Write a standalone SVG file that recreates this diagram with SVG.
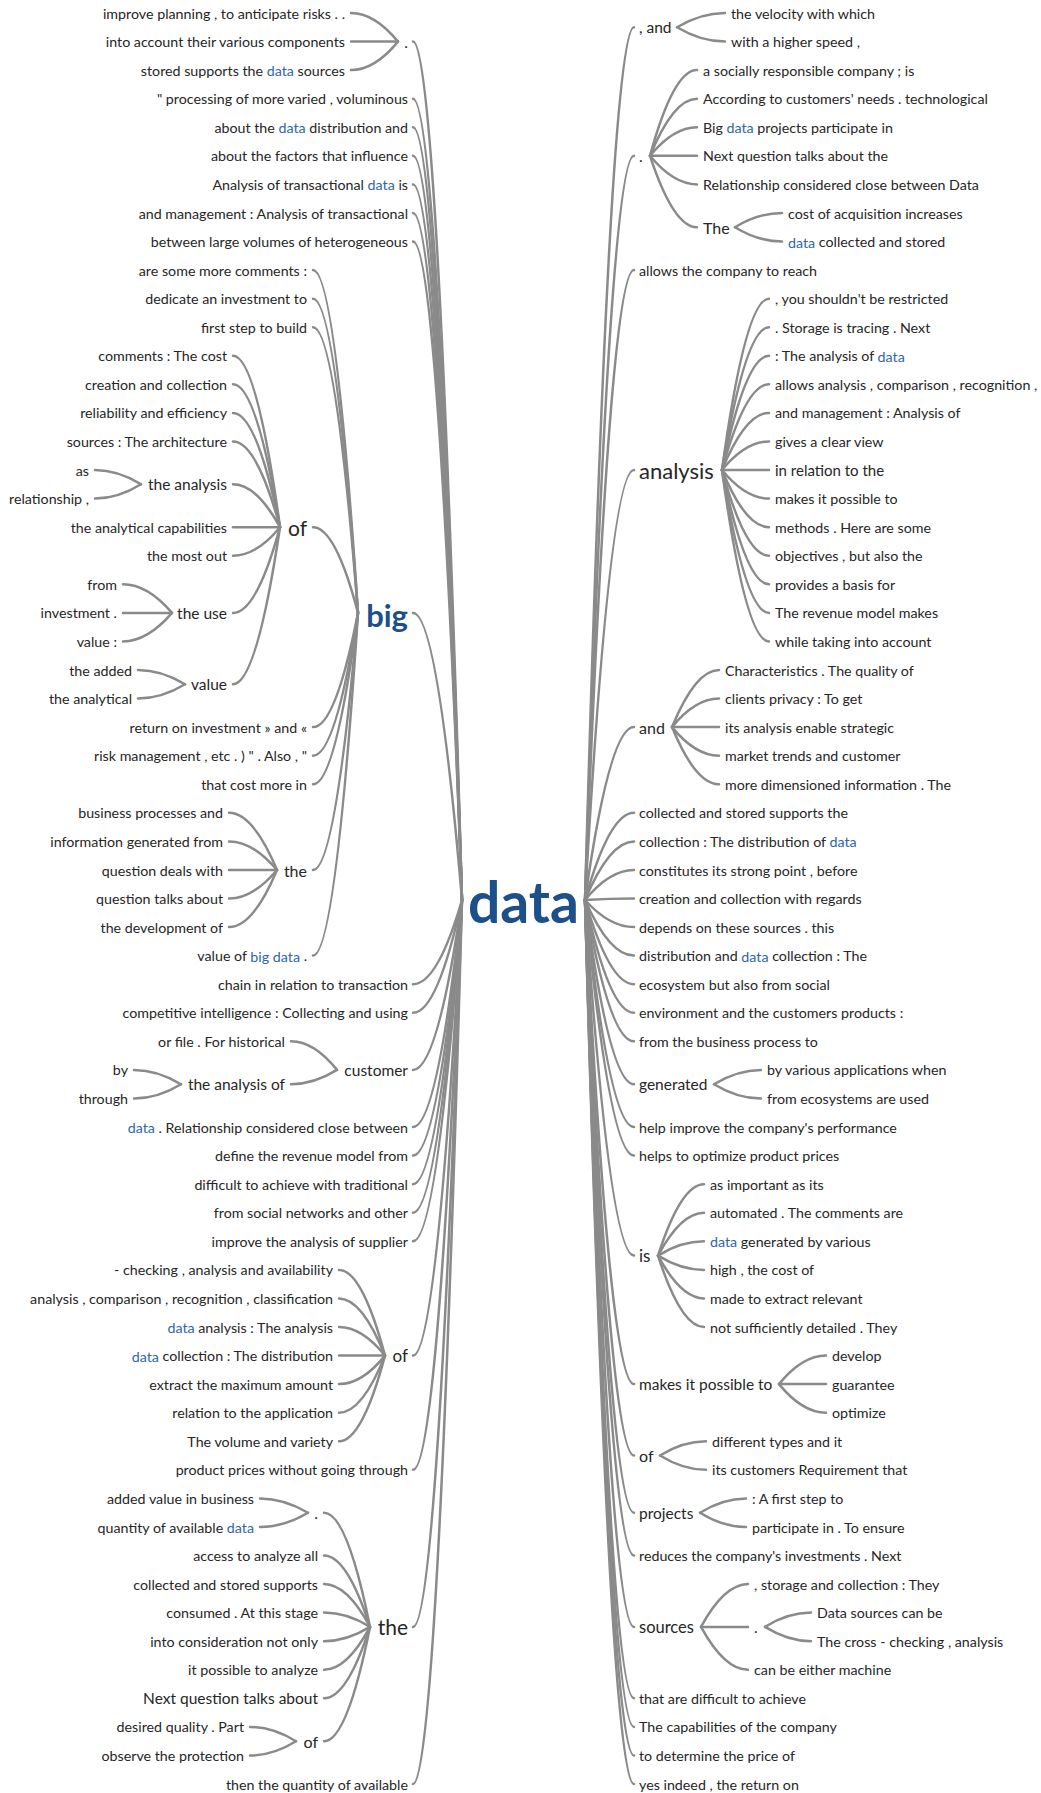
<svg xmlns="http://www.w3.org/2000/svg" width="1041" height="1793" viewBox="0 0 1041 1793">
<style>
text{font-family:Lato,"Liberation Sans",sans-serif;fill:#262626;dominant-baseline:central}
.s{font-size:14.25px}
.m{font-size:15.5px}
.k{font-size:16.5px}
.e{text-anchor:end}
.b{fill:#2d66a8}
.root{font-size:57px;font-weight:bold;fill:#1d4f8b;dominant-baseline:alphabetic;text-anchor:middle}
.big{font-size:31px;font-weight:bold;fill:#1d4f8b;dominant-baseline:alphabetic;text-anchor:end}
#connectors path{fill:none;stroke:#8a8a8a;stroke-width:2.5;stroke-linecap:round}
</style>
<rect width="1041" height="1793" fill="#ffffff"/>
<g id="connectors">
<path d="M462 900Q437.5 41.6 413 41.6"/>
<path d="M462 900Q437.5 98.7 413 98.7"/>
<path d="M462 900Q437.5 127.3 413 127.3"/>
<path d="M462 900Q437.5 155.8 413 155.8"/>
<path d="M462 900Q437.5 184.4 413 184.4"/>
<path d="M462 900Q437.5 213 413 213"/>
<path d="M462 900Q437.5 241.5 413 241.5"/>
<path d="M462 900Q437.5 612.9 413 612.9"/>
<path d="M462 900Q437.5 984.2 413 984.2"/>
<path d="M462 900Q437.5 1012.8 413 1012.8"/>
<path d="M462 900Q437.5 1069.9 413 1069.9"/>
<path d="M462 900Q437.5 1127 413 1127"/>
<path d="M462 900Q437.5 1155.6 413 1155.6"/>
<path d="M462 900Q437.5 1184.2 413 1184.2"/>
<path d="M462 900Q437.5 1212.7 413 1212.7"/>
<path d="M462 900Q437.5 1241.3 413 1241.3"/>
<path d="M462 900Q437.5 1355.6 413 1355.6"/>
<path d="M462 900Q437.5 1469.8 413 1469.8"/>
<path d="M462 900Q437.5 1626.9 413 1626.9"/>
<path d="M462 900Q437.5 1784 413 1784"/>
<path d="M398 41.6Q374.5 13 351 13"/>
<path d="M398 41.6Q374.5 41.6 351 41.6"/>
<path d="M398 41.6Q374.5 70.1 351 70.1"/>
<path d="M358 612.9Q335.5 270.1 313 270.1"/>
<path d="M358 612.9Q335.5 298.7 313 298.7"/>
<path d="M358 612.9Q335.5 327.2 313 327.2"/>
<path d="M358 612.9Q335.5 527.2 313 527.2"/>
<path d="M358 612.9Q335.5 727.1 313 727.1"/>
<path d="M358 612.9Q335.5 755.7 313 755.7"/>
<path d="M358 612.9Q335.5 784.3 313 784.3"/>
<path d="M358 612.9Q335.5 870 313 870"/>
<path d="M358 612.9Q335.5 955.6 313 955.6"/>
<path d="M280 527.2Q256.5 355.8 233 355.8"/>
<path d="M280 527.2Q256.5 384.3 233 384.3"/>
<path d="M280 527.2Q256.5 412.9 233 412.9"/>
<path d="M280 527.2Q256.5 441.5 233 441.5"/>
<path d="M280 527.2Q256.5 484.3 233 484.3"/>
<path d="M280 527.2Q256.5 527.2 233 527.2"/>
<path d="M280 527.2Q256.5 555.7 233 555.7"/>
<path d="M280 527.2Q256.5 612.9 233 612.9"/>
<path d="M280 527.2Q256.5 684.3 233 684.3"/>
<path d="M141 484.3Q118 470 95 470"/>
<path d="M141 484.3Q118 498.6 95 498.6"/>
<path d="M172 612.9Q147.5 584.3 123 584.3"/>
<path d="M172 612.9Q147.5 612.9 123 612.9"/>
<path d="M172 612.9Q147.5 641.4 123 641.4"/>
<path d="M185 684.3Q161.5 670 138 670"/>
<path d="M185 684.3Q161.5 698.6 138 698.6"/>
<path d="M277 870Q253 812.8 229 812.8"/>
<path d="M277 870Q253 841.4 229 841.4"/>
<path d="M277 870Q253 870 229 870"/>
<path d="M277 870Q253 898.5 229 898.5"/>
<path d="M277 870Q253 927.1 229 927.1"/>
<path d="M337 1069.9Q314 1041.3 291 1041.3"/>
<path d="M337 1069.9Q314 1084.2 291 1084.2"/>
<path d="M181 1084.2Q157.5 1069.9 134 1069.9"/>
<path d="M181 1084.2Q157.5 1098.5 134 1098.5"/>
<path d="M385 1355.6Q362 1269.9 339 1269.9"/>
<path d="M385 1355.6Q362 1298.4 339 1298.4"/>
<path d="M385 1355.6Q362 1327 339 1327"/>
<path d="M385 1355.6Q362 1355.6 339 1355.6"/>
<path d="M385 1355.6Q362 1384.1 339 1384.1"/>
<path d="M385 1355.6Q362 1412.7 339 1412.7"/>
<path d="M385 1355.6Q362 1441.3 339 1441.3"/>
<path d="M370 1626.9Q347 1512.7 324 1512.7"/>
<path d="M370 1626.9Q347 1555.5 324 1555.5"/>
<path d="M370 1626.9Q347 1584.1 324 1584.1"/>
<path d="M370 1626.9Q347 1612.6 324 1612.6"/>
<path d="M370 1626.9Q347 1641.2 324 1641.2"/>
<path d="M370 1626.9Q347 1669.8 324 1669.8"/>
<path d="M370 1626.9Q347 1698.3 324 1698.3"/>
<path d="M370 1626.9Q347 1741.2 324 1741.2"/>
<path d="M308 1512.7Q284 1498.4 260 1498.4"/>
<path d="M308 1512.7Q284 1527 260 1527"/>
<path d="M296 1741.2Q273 1726.9 250 1726.9"/>
<path d="M296 1741.2Q273 1755.5 250 1755.5"/>
<path d="M585 900Q609.5 27.3 634 27.3"/>
<path d="M585 900Q609.5 155.8 634 155.8"/>
<path d="M585 900Q609.5 270.1 634 270.1"/>
<path d="M585 900Q609.5 470 634 470"/>
<path d="M585 900Q609.5 727.1 634 727.1"/>
<path d="M585 900Q609.5 812.8 634 812.8"/>
<path d="M585 900Q609.5 841.4 634 841.4"/>
<path d="M585 900Q609.5 870 634 870"/>
<path d="M585 900Q609.5 898.5 634 898.5"/>
<path d="M585 900Q609.5 927.1 634 927.1"/>
<path d="M585 900Q609.5 955.6 634 955.6"/>
<path d="M585 900Q609.5 984.2 634 984.2"/>
<path d="M585 900Q609.5 1012.8 634 1012.8"/>
<path d="M585 900Q609.5 1041.3 634 1041.3"/>
<path d="M585 900Q609.5 1084.2 634 1084.2"/>
<path d="M585 900Q609.5 1127 634 1127"/>
<path d="M585 900Q609.5 1155.6 634 1155.6"/>
<path d="M585 900Q609.5 1255.6 634 1255.6"/>
<path d="M585 900Q609.5 1384.1 634 1384.1"/>
<path d="M585 900Q609.5 1455.5 634 1455.5"/>
<path d="M585 900Q609.5 1512.7 634 1512.7"/>
<path d="M585 900Q609.5 1555.5 634 1555.5"/>
<path d="M585 900Q609.5 1626.9 634 1626.9"/>
<path d="M585 900Q609.5 1698.3 634 1698.3"/>
<path d="M585 900Q609.5 1726.9 634 1726.9"/>
<path d="M585 900Q609.5 1755.5 634 1755.5"/>
<path d="M585 900Q609.5 1784 634 1784"/>
<path d="M677 27.3Q701 13 725 13"/>
<path d="M677 27.3Q701 41.6 725 41.6"/>
<path d="M650 155.8Q673.5 70.1 697 70.1"/>
<path d="M650 155.8Q673.5 98.7 697 98.7"/>
<path d="M650 155.8Q673.5 127.3 697 127.3"/>
<path d="M650 155.8Q673.5 155.8 697 155.8"/>
<path d="M650 155.8Q673.5 184.4 697 184.4"/>
<path d="M650 155.8Q673.5 227.2 697 227.2"/>
<path d="M735 227.2Q758.5 213 782 213"/>
<path d="M735 227.2Q758.5 241.5 782 241.5"/>
<path d="M722 470Q745.5 298.7 769 298.7"/>
<path d="M722 470Q745.5 327.2 769 327.2"/>
<path d="M722 470Q745.5 355.8 769 355.8"/>
<path d="M722 470Q745.5 384.3 769 384.3"/>
<path d="M722 470Q745.5 412.9 769 412.9"/>
<path d="M722 470Q745.5 441.5 769 441.5"/>
<path d="M722 470Q745.5 470 769 470"/>
<path d="M722 470Q745.5 498.6 769 498.6"/>
<path d="M722 470Q745.5 527.2 769 527.2"/>
<path d="M722 470Q745.5 555.7 769 555.7"/>
<path d="M722 470Q745.5 584.3 769 584.3"/>
<path d="M722 470Q745.5 612.9 769 612.9"/>
<path d="M722 470Q745.5 641.4 769 641.4"/>
<path d="M672 727.1Q695.5 670 719 670"/>
<path d="M672 727.1Q695.5 698.6 719 698.6"/>
<path d="M672 727.1Q695.5 727.1 719 727.1"/>
<path d="M672 727.1Q695.5 755.7 719 755.7"/>
<path d="M672 727.1Q695.5 784.3 719 784.3"/>
<path d="M714 1084.2Q737.5 1069.9 761 1069.9"/>
<path d="M714 1084.2Q737.5 1098.5 761 1098.5"/>
<path d="M658 1255.6Q681 1184.2 704 1184.2"/>
<path d="M658 1255.6Q681 1212.7 704 1212.7"/>
<path d="M658 1255.6Q681 1241.3 704 1241.3"/>
<path d="M658 1255.6Q681 1269.9 704 1269.9"/>
<path d="M658 1255.6Q681 1298.4 704 1298.4"/>
<path d="M658 1255.6Q681 1327 704 1327"/>
<path d="M779 1384.1Q802.5 1355.6 826 1355.6"/>
<path d="M779 1384.1Q802.5 1384.1 826 1384.1"/>
<path d="M779 1384.1Q802.5 1412.7 826 1412.7"/>
<path d="M660 1455.5Q683 1441.3 706 1441.3"/>
<path d="M660 1455.5Q683 1469.8 706 1469.8"/>
<path d="M700 1512.7Q723 1498.4 746 1498.4"/>
<path d="M700 1512.7Q723 1527 746 1527"/>
<path d="M701 1626.9Q724.5 1584.1 748 1584.1"/>
<path d="M701 1626.9Q724.5 1626.9 748 1626.9"/>
<path d="M701 1626.9Q724.5 1669.8 748 1669.8"/>
<path d="M765 1626.9Q788 1612.6 811 1612.6"/>
<path d="M765 1626.9Q788 1641.2 811 1641.2"/>
</g>

<g id="n-data"><text class="root" x="523.5" y="923">data</text></g>
<g id="n-big"><text class="big" x="408" y="627">big</text></g>

<g id="l-dot1"><text class="m e" x="408" y="41.6">.</text></g>
<g id="l3"><text class="s e" x="408" y="98.7">" processing of more varied , voluminous</text></g>
<g id="l4"><text class="s e" x="408" y="127.3">about the <tspan class="b">data</tspan> distribution and</text></g>
<g id="l5"><text class="s e" x="408" y="155.8">about the factors that influence</text></g>
<g id="l6"><text class="s e" x="408" y="184.4">Analysis of transactional <tspan class="b">data</tspan> is</text></g>
<g id="l7"><text class="s e" x="408" y="213">and management : Analysis of transactional</text></g>
<g id="l8"><text class="s e" x="408" y="241.5">between large volumes of heterogeneous</text></g>
<g id="l34"><text class="s e" x="408" y="984.2">chain in relation to transaction</text></g>
<g id="l35"><text class="s e" x="408" y="1012.8">competitive intelligence : Collecting and using</text></g>
<g id="l-customer"><text class="m e" x="408" y="1069.9">customer</text></g>
<g id="l39"><text class="s e" x="408" y="1127"><tspan class="b">data</tspan> . Relationship considered close between</text></g>
<g id="l40"><text class="s e" x="408" y="1155.6">define the revenue model from</text></g>
<g id="l41"><text class="s e" x="408" y="1184.2">difficult to achieve with traditional</text></g>
<g id="l42"><text class="s e" x="408" y="1212.7">from social networks and other</text></g>
<g id="l43"><text class="s e" x="408" y="1241.3">improve the analysis of supplier</text></g>
<g id="l-of47"><text class="e" style="font-size:17px" x="408" y="1355.6">of</text></g>
<g id="l51"><text class="s e" x="408" y="1469.8">product prices without going through</text></g>
<g id="l-the56"><text class="e" style="font-size:21px" x="408" y="1626.9">the</text></g>
<g id="l62"><text class="s e" x="408" y="1784">then the quantity of available</text></g>

<g id="l0"><text class="s e" x="345" y="13">improve planning , to anticipate risks . .</text></g>
<g id="l1"><text class="s e" x="345" y="41.6">into account their various components</text></g>
<g id="l2"><text class="s e" x="345" y="70.1">stored supports the <tspan class="b">data</tspan> sources</text></g>

<g id="l9"><text class="s e" x="307" y="270.1">are some more comments :</text></g>
<g id="l10"><text class="s e" x="307" y="298.7">dedicate an investment to</text></g>
<g id="l11"><text class="s e" x="307" y="327.2">first step to build</text></g>
<g id="l-of18"><text class="e" style="font-size:21px" x="307" y="527.2">of</text></g>
<g id="l25"><text class="s e" x="307" y="727.1">return on investment » and «</text></g>
<g id="l26"><text class="s e" x="307" y="755.7">risk management , etc . ) " . Also , "</text></g>
<g id="l27"><text class="s e" x="307" y="784.3">that cost more in</text></g>
<g id="l-the30"><text class="e" style="font-size:16px" x="307" y="870">the</text></g>
<g id="l33"><text class="s e" x="307" y="955.6">value of <tspan class="b">big data</tspan> .</text></g>

<g id="l12"><text class="s e" x="227" y="355.8">comments : The cost</text></g>
<g id="l13"><text class="s e" x="227" y="384.3">creation and collection</text></g>
<g id="l14"><text class="s e" x="227" y="412.9">reliability and efficiency</text></g>
<g id="l15"><text class="s e" x="227" y="441.5">sources : The architecture</text></g>
<g id="l-theanalysis"><text class="m e" x="227" y="484.3">the analysis</text></g>
<g id="l18"><text class="s e" x="227" y="527.2">the analytical capabilities</text></g>
<g id="l19"><text class="s e" x="227" y="555.7">the most out</text></g>
<g id="l-theuse"><text class="m e" x="227" y="612.9">the use</text></g>
<g id="l-value"><text class="m e" x="227" y="684.3">value</text></g>

<g id="l16"><text class="s e" x="89" y="470">as</text></g>
<g id="l17"><text class="s e" x="89" y="498.6">relationship ,</text></g>
<g id="l20"><text class="s e" x="117" y="584.3">from</text></g>
<g id="l21"><text class="s e" x="117" y="612.9">investment .</text></g>
<g id="l22"><text class="s e" x="117" y="641.4">value :</text></g>
<g id="l23"><text class="s e" x="132" y="670">the added</text></g>
<g id="l24"><text class="s e" x="132" y="698.6">the analytical</text></g>

<g id="l28"><text class="s e" x="223" y="812.8">business processes and</text></g>
<g id="l29"><text class="s e" x="223" y="841.4">information generated from</text></g>
<g id="l30"><text class="s e" x="223" y="870">question deals with</text></g>
<g id="l31"><text class="s e" x="223" y="898.5">question talks about</text></g>
<g id="l32"><text class="s e" x="223" y="927.1">the development of</text></g>

<g id="l36"><text class="s e" x="285" y="1041.3">or file . For historical</text></g>
<g id="l-theanalysisof"><text class="m e" x="285" y="1084.2">the analysis of</text></g>
<g id="l37"><text class="s e" x="128" y="1069.9">by</text></g>
<g id="l38"><text class="s e" x="128" y="1098.5">through</text></g>

<g id="l44"><text class="s e" x="333" y="1269.9">- checking , analysis and availability</text></g>
<g id="l45"><text class="s e" x="333" y="1298.4">analysis , comparison , recognition , classification</text></g>
<g id="l46"><text class="s e" x="333" y="1327"><tspan class="b">data</tspan> analysis : The analysis</text></g>
<g id="l47"><text class="s e" x="333" y="1355.6"><tspan class="b">data</tspan> collection : The distribution</text></g>
<g id="l48"><text class="s e" x="333" y="1384.1">extract the maximum amount</text></g>
<g id="l49"><text class="s e" x="333" y="1412.7">relation to the application</text></g>
<g id="l50"><text class="s e" x="333" y="1441.3">The volume and variety</text></g>

<g id="l-dot52"><text class="m e" x="318" y="1512.7">.</text></g>
<g id="l52"><text class="s e" x="254" y="1498.4">added value in business</text></g>
<g id="l53"><text class="s e" x="254" y="1527">quantity of available <tspan class="b">data</tspan></text></g>
<g id="l54"><text class="s e" x="318" y="1555.5">access to analyze all</text></g>
<g id="l55"><text class="s e" x="318" y="1584.1">collected and stored supports</text></g>
<g id="l56"><text class="s e" x="318" y="1612.6">consumed . At this stage</text></g>
<g id="l57"><text class="s e" x="318" y="1641.2">into consideration not only</text></g>
<g id="l58"><text class="s e" x="318" y="1669.8">it possible to analyze</text></g>
<g id="l59"><text class="m e" x="318" y="1698.3">Next question talks about</text></g>
<g id="l-of60"><text class="e" style="font-size:16px" x="318" y="1741.2">of</text></g>
<g id="l60"><text class="s e" x="244" y="1726.9">desired quality . Part</text></g>
<g id="l61"><text class="s e" x="244" y="1755.5">observe the protection</text></g>

<g id="r-and0"><text class="m" x="639" y="27.3">, and</text></g>
<g id="r-dot5"><text class="m" x="639" y="155.8">.</text></g>
<g id="r9"><text class="s" x="639" y="270.1">allows the company to reach</text></g>
<g id="r-analysis"><text style="font-size:22px" x="639" y="470">analysis</text></g>
<g id="r-and25"><text style="font-size:16px" x="639" y="727.1">and</text></g>
<g id="r28"><text class="s" x="639" y="812.8">collected and stored supports the</text></g>
<g id="r29"><text class="s" x="639" y="841.4">collection : The distribution of <tspan class="b">data</tspan></text></g>
<g id="r30"><text class="s" x="639" y="870">constitutes its strong point , before</text></g>
<g id="r31"><text class="s" x="639" y="898.5">creation and collection with regards</text></g>
<g id="r32"><text class="s" x="639" y="927.1">depends on these sources . this</text></g>
<g id="r33"><text class="s" x="639" y="955.6">distribution and <tspan class="b">data</tspan> collection : The</text></g>
<g id="r34"><text class="s" x="639" y="984.2">ecosystem but also from social</text></g>
<g id="r35"><text class="s" x="639" y="1012.8">environment and the customers products :</text></g>
<g id="r36"><text class="s" x="639" y="1041.3">from the business process to</text></g>
<g id="r-generated"><text class="m" x="639" y="1084.2">generated</text></g>
<g id="r39"><text class="s" x="639" y="1127">help improve the company's performance</text></g>
<g id="r40"><text class="s" x="639" y="1155.6">helps to optimize product prices</text></g>
<g id="r-is"><text style="font-size:17px" x="639" y="1255.6">is</text></g>
<g id="r-makes"><text class="m" x="639" y="1384.1">makes it possible to</text></g>
<g id="r-of50"><text style="font-size:16px" x="639" y="1455.5">of</text></g>
<g id="r-projects"><text class="m" x="639" y="1512.7">projects</text></g>
<g id="r54"><text class="s" x="639" y="1555.5">reduces the company's investments . Next</text></g>
<g id="r-sources"><text class="k" x="639" y="1626.9">sources</text></g>
<g id="r59"><text class="s" x="639" y="1698.3">that are difficult to achieve</text></g>
<g id="r60"><text class="s" x="639" y="1726.9">The capabilities of the company</text></g>
<g id="r61"><text class="s" x="639" y="1755.5">to determine the price of</text></g>
<g id="r62"><text class="s" x="639" y="1784">yes indeed , the return on</text></g>

<g id="r0"><text class="s" x="731" y="13">the velocity with which</text></g>
<g id="r1"><text class="s" x="731" y="41.6">with a higher speed ,</text></g>
<g id="r2"><text class="s" x="703" y="70.1">a socially responsible company ; is</text></g>
<g id="r3"><text class="s" x="703" y="98.7">According to customers' needs . technological</text></g>
<g id="r4"><text class="s" x="703" y="127.3">Big <tspan class="b">data</tspan> projects participate in</text></g>
<g id="r5"><text class="s" x="703" y="155.8">Next question talks about the</text></g>
<g id="r6"><text class="s" x="703" y="184.4">Relationship considered close between Data</text></g>
<g id="r-The"><text style="font-size:16px" x="703" y="227.2">The</text></g>
<g id="r7"><text class="s" x="788" y="213">cost of acquisition increases</text></g>
<g id="r8"><text class="s" x="788" y="241.5"><tspan class="b">data</tspan> collected and stored</text></g>

<g id="r10"><text class="s" x="775" y="298.7">, you shouldn't be restricted</text></g>
<g id="r11"><text class="s" x="775" y="327.2">. Storage is tracing . Next</text></g>
<g id="r12"><text class="s" x="775" y="355.8">: The analysis of <tspan class="b">data</tspan></text></g>
<g id="r13"><text class="s" x="775" y="384.3">allows analysis , comparison , recognition ,</text></g>
<g id="r14"><text class="s" x="775" y="412.9">and management : Analysis of</text></g>
<g id="r15"><text class="s" x="775" y="441.5">gives a clear view</text></g>
<g id="r16"><text style="font-size:15px" x="775" y="470">in relation to the</text></g>
<g id="r17"><text class="s" x="775" y="498.6">makes it possible to</text></g>
<g id="r18"><text class="s" x="775" y="527.2">methods . Here are some</text></g>
<g id="r19"><text class="s" x="775" y="555.7">objectives , but also the</text></g>
<g id="r20"><text class="s" x="775" y="584.3">provides a basis for</text></g>
<g id="r21"><text class="s" x="775" y="612.9">The revenue model makes</text></g>
<g id="r22"><text class="s" x="775" y="641.4">while taking into account</text></g>

<g id="r23"><text class="s" x="725" y="670">Characteristics . The quality of</text></g>
<g id="r24"><text class="s" x="725" y="698.6">clients privacy : To get</text></g>
<g id="r25"><text class="s" x="725" y="727.1">its analysis enable strategic</text></g>
<g id="r26"><text class="s" x="725" y="755.7">market trends and customer</text></g>
<g id="r27"><text class="s" x="725" y="784.3">more dimensioned information . The</text></g>

<g id="r37"><text class="s" x="767" y="1069.9">by various applications when</text></g>
<g id="r38"><text class="s" x="767" y="1098.5">from ecosystems are used</text></g>

<g id="r41"><text class="s" x="710" y="1184.2">as important as its</text></g>
<g id="r42"><text class="s" x="710" y="1212.7">automated . The comments are</text></g>
<g id="r43"><text class="s" x="710" y="1241.3"><tspan class="b">data</tspan> generated by various</text></g>
<g id="r44"><text class="s" x="710" y="1269.9">high , the cost of</text></g>
<g id="r45"><text class="s" x="710" y="1298.4">made to extract relevant</text></g>
<g id="r46"><text class="s" x="710" y="1327">not sufficiently detailed . They</text></g>

<g id="r47"><text class="s" x="832" y="1355.6">develop</text></g>
<g id="r48"><text class="s" x="832" y="1384.1">guarantee</text></g>
<g id="r49"><text class="s" x="832" y="1412.7">optimize</text></g>

<g id="r50"><text class="s" x="712" y="1441.3">different types and it</text></g>
<g id="r51"><text class="s" x="712" y="1469.8">its customers Requirement that</text></g>

<g id="r52"><text class="s" x="752" y="1498.4">: A first step to</text></g>
<g id="r53"><text class="s" x="752" y="1527">participate in . To ensure</text></g>

<g id="r55"><text class="s" x="754" y="1584.1">, storage and collection : They</text></g>
<g id="r-dot56"><text class="m" x="754" y="1626.9">.</text></g>
<g id="r58"><text class="s" x="754" y="1669.8">can be either machine</text></g>
<g id="r56"><text class="s" x="817" y="1612.6">Data sources can be</text></g>
<g id="r57"><text class="s" x="817" y="1641.2">The cross - checking , analysis</text></g>
</svg>
